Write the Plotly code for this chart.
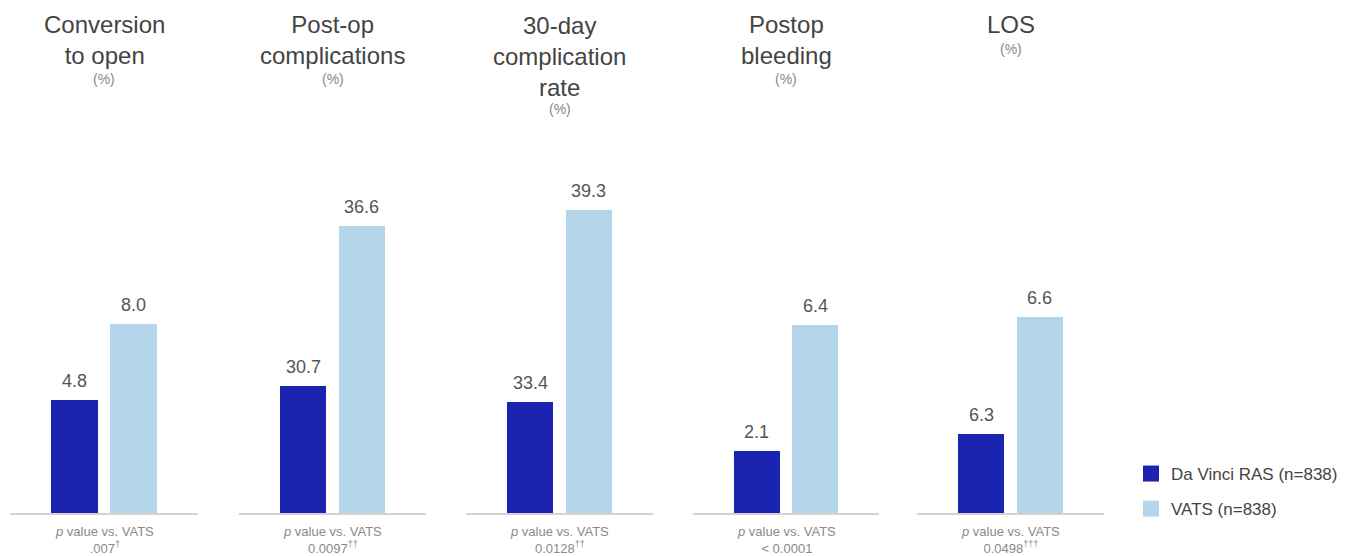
import plotly.graph_objects as go

# ---- data ----
metrics = ["Conversion<br>to open", "Post-op<br>complications", "30-day<br>complication<br>rate",
           "Postop<br>bleeding", "LOS"]
unit_label = "(%)"
series_names = ["Da Vinci RAS (n=838)", "VATS (n=838)"]
davinci = [4.8, 30.7, 33.4, 2.1, 6.3]
vats = [8.0, 36.6, 39.3, 6.4, 6.6]
p_values = [".007<sup>†</sup>", "0.0097<sup>††</sup>", "0.0128<sup>††</sup>", "&lt; 0.0001",
            "0.0498<sup>†††</sup>"]
# truncated value axes, as in the original slide
y_min = [0, 26.0, 30.0, 0, 6.1]
y_max = [15.38, 39.39, 41.13, 12.35, 7.024]

# ---- style ----
W, H = 1351, 556
dark = "#1B24B0"
light = "#B5D5EB"
font_family = "Liberation Sans, Arial, sans-serif"
panels_px = [(10, 198), (239, 426), (466, 653), (693, 879), (917, 1104)]
base_px, top_px = 513, 150

fig = go.Figure()
layout = dict(
    width=W, height=H, margin=dict(l=0, r=0, t=0, b=0),
    paper_bgcolor="white", plot_bgcolor="white",
    font=dict(family=font_family, color="#444"),
    showlegend=True,
    bargap=0,
)
annotations = []
ydom = [1 - base_px / H, 1 - top_px / H]

for i in range(5):
    k = "" if i == 0 else str(i + 1)
    xa, ya = "x" + k, "y" + k
    x0, x1 = panels_px[i]
    layout["xaxis" + k] = dict(domain=[x0 / W, x1 / W], range=[-1.1, 2.1], showline=True,
                               linecolor="#D3D3D3", linewidth=2, showticklabels=False,
                               ticks="", showgrid=False, zeroline=False, fixedrange=True,
                               anchor=ya)
    layout["yaxis" + k] = dict(domain=ydom, range=[y_min[i], y_max[i]], visible=False,
                               showgrid=False, zeroline=False, fixedrange=True, anchor=xa)
    for j, (vals, col) in enumerate([(davinci, dark), (vats, light)]):
        fig.add_trace(go.Bar(x=[j], y=[vals[i]], width=0.79, marker=dict(color=col, line=dict(width=0)),
                             xaxis=xa, yaxis=ya, showlegend=False, hoverinfo="skip"))
        annotations.append(dict(x=j, y=vals[i], xref=xa, yref=ya, text=f"{vals[i]:.1f}",
                                showarrow=False, xanchor="center", yanchor="middle", yshift=19,
                                font=dict(size=18, color="#555")))
    cx = (x0 + x1) / 2 / W
    n = metrics[i].count("<br>") + 1
    annotations.append(dict(x=cx, y=1 - (25 + (n - 1) * 15.5) / H, xref="paper", yref="paper",
                            text=metrics[i], showarrow=False, xanchor="center", yanchor="middle",
                            font=dict(size=24, color="#444")))
    annotations.append(dict(x=cx, y=1 - (25 + (n - 1) * 30 + 24) / H, xref="paper", yref="paper",
                            text=unit_label, showarrow=False, xanchor="center", yanchor="middle",
                            font=dict(size=14, color="#888")))
    annotations.append(dict(x=cx, y=1 - 539.5 / H, xref="paper", yref="paper",
                            text="<i>p</i> value vs. VATS<br>" + p_values[i], showarrow=False,
                            xanchor="center", yanchor="middle", font=dict(size=13, color="#8A8A8A")))

# legend entries
for name, col in zip(series_names, [dark, light]):
    fig.add_trace(go.Scatter(x=[None], y=[None], mode="markers", name=name, legendgroup=name,
                             marker=dict(symbol="square", size=20, color=col)))

layout["legend"] = dict(x=1131 / W, xanchor="left", y=1 - 456 / H, yanchor="top",
                        font=dict(size=17, color="#444"), tracegroupgap=10,
                        bgcolor="rgba(0,0,0,0)")
layout["annotations"] = annotations
fig.update_layout(**layout)
fig.write_html("out.html")
